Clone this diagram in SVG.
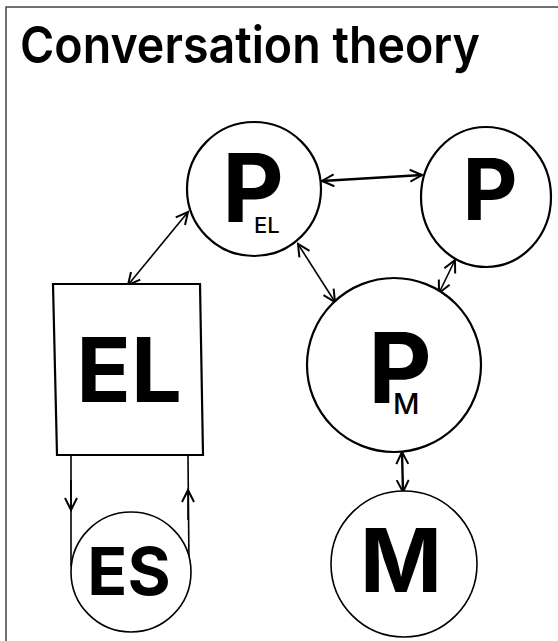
<svg xmlns="http://www.w3.org/2000/svg" width="558" height="641" viewBox="0 0 558 641">
<style>
.node{fill:#fff;stroke:#000;stroke-width:2.2}
.thin{stroke-width:1.6}
.big{font-family:Inter,"Liberation Sans",sans-serif;font-weight:700;fill:#000;text-anchor:middle}
.sub{font-family:Inter,"Liberation Sans",sans-serif;font-weight:500;fill:#000}
.edge{fill:none;stroke:#000;stroke-width:1.6}
.edge.thick{stroke-width:2.4}
</style>
<defs>
<marker id="ah" viewBox="-14 -8 16 16" markerWidth="16" markerHeight="16" refX="0" refY="0" orient="auto-start-reverse" markerUnits="userSpaceOnUse">
<path d="M-12,-6 L0,0 L-12,6" fill="none" stroke="#000" stroke-width="2"/>
</marker>
</defs>
<rect width="558" height="641" fill="#fff"/>
<path d="M6,641 V7 H558" fill="none" stroke="#444" stroke-width="1.5"/>
<text x="20" y="63" font-family="Inter,'Liberation Sans',sans-serif" font-weight="600" font-size="51" textLength="460" lengthAdjust="spacingAndGlyphs">Conversation theory</text>

<g id="connectors">
<line class="edge" x1="128" y1="285" x2="188" y2="212" marker-start="url(#ah)" marker-end="url(#ah)"/>
<line class="edge thick" x1="322" y1="181" x2="422" y2="175" marker-start="url(#ah)" marker-end="url(#ah)"/>
<line class="edge" x1="298" y1="244" x2="335" y2="302" marker-start="url(#ah)" marker-end="url(#ah)"/>
<line class="edge" x1="455" y1="260" x2="439" y2="293" marker-start="url(#ah)" marker-end="url(#ah)"/>
<line class="edge thick" x1="402" y1="452" x2="403" y2="492" marker-start="url(#ah)" marker-end="url(#ah)"/>
<path class="edge" d="M71,456 V566" />
<path class="edge" d="M71,480 V510" marker-end="url(#ah)"/>
<path class="edge" d="M189,566 L188,456" />
<path class="edge" d="M188,520 V490" marker-end="url(#ah)"/>
</g>

<g id="node-PEL">
<circle class="node" cx="254" cy="189" r="67"/>
<text class="big" x="253" y="222" font-size="95">P</text>
<text class="sub" x="254" y="233" font-size="22">EL</text>
</g>
<g id="node-P">
<ellipse class="node" cx="486" cy="197" rx="65" ry="70"/>
<text class="big" x="490" y="220" font-size="85">P</text>
</g>
<g id="node-PM">
<circle class="node" cx="394" cy="365" r="87"/>
<text class="big" x="400" y="403" font-size="98">P</text>
<text class="sub" x="393" y="414" font-size="29">M</text>
</g>
<g id="node-M">
<circle class="node thin" cx="404" cy="564" r="73"/>
<text class="big" x="401" y="592" font-size="88">M</text>
</g>
<g id="node-EL">
<path class="node" stroke-width="2.6" d="M53,284 L200,284 L203,455 L57,455 Z"/>
<text class="big" x="129" y="402" font-size="90">EL</text>
</g>
<g id="node-ES">
<circle class="node thin" cx="131" cy="572" r="60"/>
<text class="big" x="129" y="595" font-size="66">ES</text>
</g>
</svg>
